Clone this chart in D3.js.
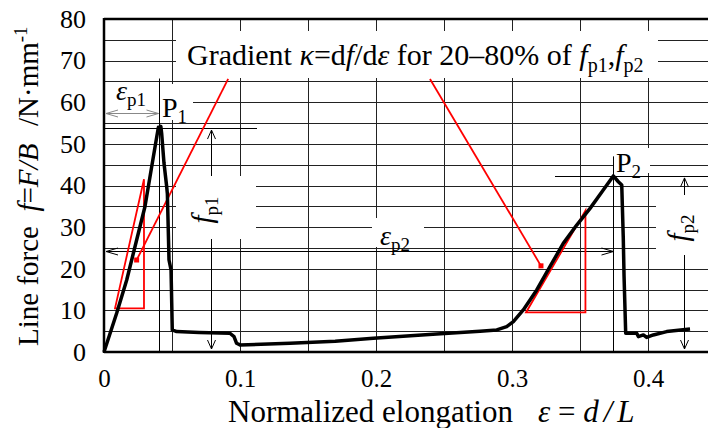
<!DOCTYPE html>
<html><head><meta charset="utf-8">
<script src="https://cdn.jsdelivr.net/npm/d3@7"></script>
<style>
body{margin:0;background:#fff}
svg{display:block}
text{font-family:"Liberation Serif","Times New Roman",serif;fill:#000}
</style>
</head><body>
<svg id="c" width="708" height="428"></svg>
<script>
// ---- data ----
const elongation=[0,0.0093,0.0167,0.024,0.0301,0.0363,0.0388,0.0400,0.0410,0.0418,0.0424,0.0441,0.0461,0.0466,0.0478,0.0493,0.0502,0.0534,0.07,0.0926,0.0956,0.0975,0.1,0.1368,0.17,0.198,0.2446,0.2765,0.2888,0.2961,0.301,0.3083,0.3182,0.3279,0.3377,0.3476,0.3574,0.3671,0.3745,0.3782,0.3807,0.3818,0.3824,0.3836,0.3917,0.3929,0.3966,0.399,0.4039,0.4137,0.4309];
const lineForce=[0,9.3,17.3,26.9,34.9,46.9,51.7,54.0,53.0,54.2,52.5,45.4,39.7,38.0,22.1,19.7,5.3,4.9,4.7,4.5,3.7,2.1,1.7,2.1,2.6,3.3,4.3,5.0,5.3,6.1,7.3,10.1,14.9,20.5,26.1,30.5,34.5,38.9,42.3,40.9,40.1,27.7,18.1,4.5,4.5,3.7,4.1,3.5,4.1,4.9,5.5];
const xTickValues=[0,0.1,0.2,0.3,0.4];
const xTickLabels=["0","0.1","0.2","0.3","0.4"];
const yTickValues=[0,10,20,30,40,50,60,70,80];
const xGridValues=[0.05,0.1,0.15,0.2,0.25,0.3,0.35,0.4,0.45];
const yGridValues=[5,10,15,20,25,30,35,40,45,50,55,60,65,70,75];
const peak1=[0.0405,53.8];
const peak2=[0.3745,42.3];
const epsP2Level=24.3;
const epsP1Level=57.3;
const triangle1=[[0.0081,10.5],[0.0294,10.5],[0.0294,41.5]];
const triangle2=[[0.3103,9.5],[0.354,9.5],[0.354,34.0]];
const pointer1=[[0.0913,65.6],[0.024,22.1]];
const pointer2=[[0.2397,65.6],[0.3213,20.7]];

// ---- scales ----
const svg=d3.select("#c");
const x=d3.scaleLinear().domain([0,0.45]).range([104,716]);
const y=d3.scaleLinear().domain([0,80]).range([352,19]);
const X0=x(0), X1=708, Y0=y(0), Y1=y(80);
const cr=v=>Math.round(v)+0.5;

// ---- grid ----
const g=svg.append("g");
g.selectAll(".vg").data(xGridValues).join("line")
 .attr("x1",d=>cr(x(d))).attr("x2",d=>cr(x(d))).attr("y1",Y1).attr("y2",Y0)
 .attr("stroke","#222").attr("stroke-width",1);
g.selectAll(".hg").data(yGridValues).join("line")
 .attr("y1",d=>cr(y(d))).attr("y2",d=>cr(y(d))).attr("x1",X0).attr("x2",X1)
 .attr("stroke","#222").attr("stroke-width",1);

function arrowHead(sel,tx,ty,dx,dy,color,len=9,w=4){
  const L=Math.hypot(dx,dy);dx/=L;dy/=L;
  const bx=tx-dx*len,by=ty-dy*len;
  sel.append("path").attr("d",`M${bx-dy*w},${by+dx*w}L${tx},${ty}L${bx+dy*w},${by-dx*w}`)
   .attr("fill","none").attr("stroke",color).attr("stroke-width",1);
}
const ann=svg.append("g");
const fp1x=cr(x(0.0788)), fp2x=cr(x(0.4265));
ann.append("line").attr("x1",fp1x).attr("x2",fp1x).attr("y1",y(peak1[1])+2).attr("y2",Y0-3).attr("stroke","#000");
arrowHead(ann,fp1x,y(peak1[1])+2,0,-1,"#000");
arrowHead(ann,fp1x,Y0-3,0,1,"#000");
ann.append("line").attr("x1",fp2x).attr("x2",fp2x).attr("y1",y(peak2[1])+2).attr("y2",Y0-3).attr("stroke","#000");
arrowHead(ann,fp2x,y(peak2[1])+2,0,-1,"#000");
arrowHead(ann,fp2x,Y0-3,0,1,"#000");

// white label boxes
const boxes=[[176,31,482,47],[105,84,88,36],[176,176,80,63],[372,218,52,29],[614,148,36,25],[656,195,52,60]];
svg.append("g").selectAll("rect").data(boxes).join("rect")
 .attr("x",d=>d[0]).attr("y",d=>d[1]).attr("width",d=>d[2]).attr("height",d=>d[3]).attr("fill","#fff");

const a2=svg.append("g");
const p1x=cr(x(peak1[0])), p2x=cr(x(peak2[0]));
a2.append("line").attr("x1",p1x).attr("x2",p1x).attr("y1",y(65.7)).attr("y2",Y0).attr("stroke","#000");
a2.append("line").attr("x1",X0).attr("x2",257).attr("y1",cr(y(peak1[1]))).attr("y2",cr(y(peak1[1]))).attr("stroke","#000");
a2.append("line").attr("x1",p2x).attr("x2",p2x).attr("y1",y(47)).attr("y2",Y0).attr("stroke","#000");
a2.append("line").attr("x1",555).attr("x2",X1).attr("y1",cr(y(peak2[1]))).attr("y2",cr(y(peak2[1]))).attr("stroke","#000");
const e1y=cr(y(epsP1Level));
a2.append("line").attr("x1",X0+2).attr("x2",p1x-1).attr("y1",e1y).attr("y2",e1y).attr("stroke","#888");
arrowHead(a2,X0+2,e1y,-1,0,"#888",12,3.5);
arrowHead(a2,p1x-1,e1y,1,0,"#888",12,3.5);
const e2y=cr(y(epsP2Level));
a2.append("line").attr("x1",X0+2).attr("x2",p2x).attr("y1",e2y).attr("y2",e2y).attr("stroke","#000");
arrowHead(a2,X0+2,e2y,-1,0,"#000",12,3.5);
arrowHead(a2,p2x,e2y,1,0,"#000",12,3.5);

const red=svg.append("g");
[triangle1,triangle2].forEach(t=>{
  red.append("path").attr("d",d3.line().x(d=>x(d[0])).y(d=>y(d[1]))(t)+"Z")
   .attr("fill","none").attr("stroke","#f00").attr("stroke-width",1.8);
});
[pointer1,pointer2].forEach(p=>{
  red.append("line").attr("x1",x(p[0][0])).attr("y1",y(p[0][1])).attr("x2",x(p[1][0])).attr("y2",y(p[1][1]))
   .attr("stroke","#f00").attr("stroke-width",1.8);
  red.append("rect").attr("x",x(p[1][0])-2.5).attr("y",y(p[1][1])-2.5).attr("width",5).attr("height",5).attr("fill","#f00");
});

svg.append("path").datum(elongation.map((e,i)=>[e,lineForce[i]]))
 .attr("d",d3.line().x(d=>x(d[0])).y(d=>y(d[1])))
 .attr("fill","none").attr("stroke","#000").attr("stroke-width",3.5).attr("stroke-linejoin","round");

svg.append("line").attr("x1",X0).attr("x2",X0).attr("y1",Y1-1).attr("y2",Y0+1).attr("stroke","#000").attr("stroke-width",2.5);
svg.append("line").attr("x1",X0).attr("x2",X1).attr("y1",Y0).attr("y2",Y0).attr("stroke","#000").attr("stroke-width",2.5);
svg.append("line").attr("x1",X0).attr("x2",X1).attr("y1",Y1).attr("y2",Y1).attr("stroke","#000").attr("stroke-width",2.5);

const ax=svg.append("g").attr("transform",`translate(${X0},0)`)
 .call(d3.axisLeft(y).tickValues(yTickValues).tickSize(0).tickPadding(18));
ax.select(".domain").remove();
ax.selectAll("text").style("font-family",'"Liberation Serif",serif').style("font-size","26px");
const bx=svg.append("g").attr("transform",`translate(0,${Y0})`)
 .call(d3.axisBottom(x).tickValues(xTickValues).tickFormat((d,i)=>xTickLabels[i]).tickSize(0).tickPadding(17));
bx.select(".domain").remove();
bx.selectAll("text").style("font-family",'"Liberation Serif",serif').style("font-size","25px");

// titles
const xt=svg.append("text").attr("x",228).attr("y",422).style("font-size","31px");
xt.append("tspan").text("Normalized elongation");
xt.append("tspan").attr("x",538).style("font-style","italic").text("ε");
xt.append("tspan").text(" = ");
xt.append("tspan").style("font-style","italic").style("letter-spacing","5px").text("d/L");

const yt=svg.append("text").attr("transform","translate(38,346) rotate(-90)").style("font-size","29px");
yt.append("tspan").text("Line force\u00a0\u00a0");
yt.append("tspan").style("font-style","italic").text("f");
yt.append("tspan").text("=");
yt.append("tspan").style("font-style","italic").text("F/B");
const yu=svg.append("text").attr("transform","translate(38,126) rotate(-90)").style("font-size","29px");
yu.append("tspan").text("/N·mm");
yu.append("tspan").attr("dy",-11).style("font-size","19px").text("-1");

const at=svg.append("text").attr("x",187).attr("y",65).style("font-size","30px");
at.append("tspan").text("Gradient ");
at.append("tspan").style("font-style","italic").text("κ");
at.append("tspan").text("=d");
at.append("tspan").style("font-style","italic").text("f");
at.append("tspan").text("/d");
at.append("tspan").style("font-style","italic").text("ε");
at.append("tspan").text(" for 20–80% of ");
at.append("tspan").style("font-style","italic").text("f");
at.append("tspan").attr("dy",7).style("font-size","20px").text("p1");
at.append("tspan").attr("dy",-7).text(",");
at.append("tspan").style("font-style","italic").text("f");
at.append("tspan").attr("dy",7).style("font-size","20px").text("p2");

function subLabel(px,py,main,sub,italic,rot,fs){
  const t=svg.append("text").style("font-size",(fs||28)+"px")
    .attr("transform",rot?`translate(${px},${py}) rotate(-90)`:`translate(${px},${py})`)
    .attr("text-anchor",rot?"middle":"start");
  t.append("tspan").style("font-style",italic?"italic":"normal").text(main);
  t.append("tspan").attr("dy",6).style("font-size","19px").text(sub);
}
subLabel(116,100,"ε","p1",true,false);
subLabel(162,117,"P","1",false,false);
subLabel(380,245,"ε","p2",true,false);
subLabel(616,172,"P","2",false,false);
subLabel(212,210,"f","p1",true,true,29);
subLabel(688,228,"f","p2",true,true,29);
</script>
</body></html>
